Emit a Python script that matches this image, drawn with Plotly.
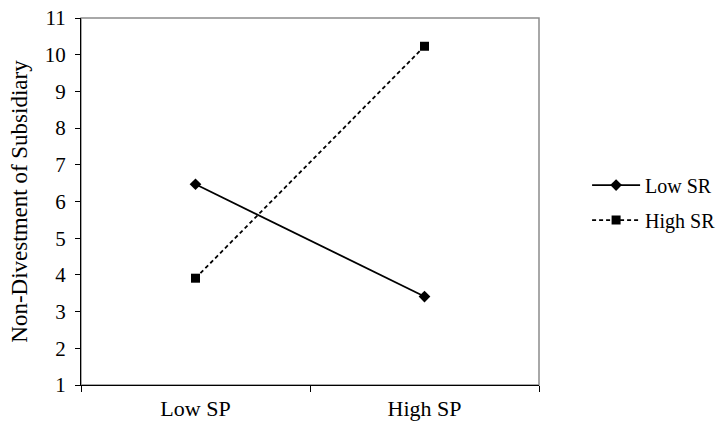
import plotly.graph_objects as go

categories = ["Low SP", "High SP"]
low_sr = [6.47, 3.41]
high_sr = [3.91, 10.23]
y_ticks = list(range(1, 12))

font_family = "Liberation Serif, Times New Roman, serif"

fig = go.Figure()
fig.add_trace(go.Scatter(
    x=categories, y=low_sr, name="Low SR", mode="lines+markers",
    legendgroup="a",
    line=dict(color="black", width=1.8),
    marker=dict(symbol="diamond", size=9, color="black"),
))
fig.add_trace(go.Scatter(
    x=categories, y=high_sr, name="High SR", mode="lines+markers",
    legendgroup="b",
    line=dict(color="black", width=1.8, dash="4px,3px"),
    marker=dict(symbol="square", size=9, color="black"),
))

fig.add_shape(type="rect", xref="paper", yref="paper", x0=0, y0=0, x1=1, y1=1,
              line=dict(color="#8c8c8c", width=1.5), layer="below")

fig.update_layout(
    width=716, height=426,
    margin=dict(l=81, r=177, t=18, b=41, autoexpand=False),
    paper_bgcolor="white", plot_bgcolor="white",
    font=dict(family=font_family, size=20, color="black"),
    showlegend=True,
    legend=dict(x=1.105, y=0.497, xanchor="left", yanchor="middle",
                font=dict(size=20), bgcolor="rgba(0,0,0,0)",
                tracegroupgap=6, itemwidth=48),
    xaxis=dict(
        type="category", range=[-0.5, 1.5], tickson="boundaries",
        ticks="outside", ticklen=6, tickcolor="black",
        showline=True, linecolor="black", linewidth=1,
        showgrid=False, zeroline=False,
        tickfont=dict(size=22), ticklabelstandoff=4,
    ),
    yaxis=dict(
        range=[1, 11], tickvals=y_ticks, ticks="outside", ticklen=5,
        tickcolor="black", showline=True, linecolor="black", linewidth=1,
        showgrid=False, zeroline=False, ticklabelstandoff=5,
        title=dict(text="Non-Divestment of Subsidiary", font=dict(size=23), standoff=10),
        tickfont=dict(size=21),
    ),
)

fig.write_html(
    "out.html",
    config={"displayModeBar": False},
    post_script="document.body.style.margin='0';document.body.style.overflow='hidden';",
)
